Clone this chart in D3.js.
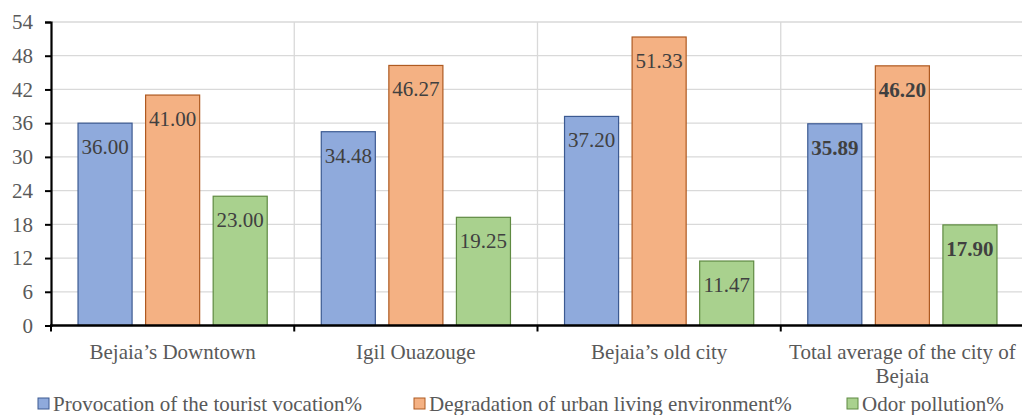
<!DOCTYPE html>
<html>
<head>
<meta charset="utf-8">
<script src="https://cdn.jsdelivr.net/npm/d3@7"></script>
<style>
  html, body { margin: 0; padding: 0; background: #fff; }
  svg { display: block; }
</style>
</head>
<body>
<svg id="chart" width="1022" height="415"></svg>
<script>
// Survey results by area (percent of respondents)
const categories = [
  ["Bejaia\u2019s Downtown"],
  ["Igil Ouazouge"],
  ["Bejaia\u2019s old city"],
  ["Total average of the city of", "Bejaia"]
];
const seriesNames = [
  "Provocation of the tourist vocation%",
  "Degradation of urban living environment%",
  "Odor pollution%"
];
const provocation = [36.00, 34.48, 37.20, 35.89];
const degradation = [41.00, 46.27, 51.33, 46.20];
const odor = [23.00, 19.25, 11.47, 17.90];
const yTicks = [0, 6, 12, 18, 24, 30, 36, 42, 48, 54];

const FONT = "'Liberation Serif', 'Times New Roman', Times, 'DejaVu Serif', serif";
const fills = ["#8faadc", "#f4b183", "#a9d18e"];
const strokes = ["#3c5a92", "#ae5a21", "#5f8a42"];

const svg = d3.select("#chart").style("font-family", FONT);
const margin = { left: 51, top: 22, right: -2, bottom: 89.5 };
const W = 1022, H = 415;
const plotW = W - margin.left - margin.right;
const plotH = H - margin.top - margin.bottom;

const seriesData = [provocation, degradation, odor];
const catIdx = d3.range(categories.length);

const x = d3.scaleBand().domain(catIdx).range([0, plotW]).paddingInner(0).paddingOuter(0);
const xInner = d3.scaleBand().domain(d3.range(3)).range([0, x.bandwidth()])
  .paddingInner(0.2).paddingOuter(0.4);
const y = d3.scaleLinear().domain([0, 54]).range([plotH, 0]);

const g = svg.append("g").attr("transform", `translate(${margin.left},${margin.top})`);

// Horizontal gridlines
g.append("g").selectAll("line").data(yTicks.filter(t => t > 0)).join("line")
  .attr("x1", 0).attr("x2", plotW)
  .attr("y1", d => y(d)).attr("y2", d => y(d))
  .attr("stroke", "#d9d9d9").attr("stroke-width", 1.3);

// Vertical gridlines between categories
g.append("g").selectAll("line").data(catIdx.slice(1)).join("line")
  .attr("x1", d => x(d)).attr("x2", d => x(d))
  .attr("y1", 0).attr("y2", plotH)
  .attr("stroke", "#d9d9d9").attr("stroke-width", 1.3);

// Bars
const groups = g.append("g").selectAll("g").data(catIdx).join("g")
  .attr("transform", d => `translate(${x(d)},0)`);

groups.selectAll("rect").data(ci => seriesData.map((s, si) => ({ si, ci, v: s[ci] }))).join("rect")
  .attr("x", d => xInner(d.si))
  .attr("width", xInner.bandwidth())
  .attr("y", d => y(d.v))
  .attr("height", d => plotH - y(d.v))
  .attr("fill", d => fills[d.si])
  .attr("stroke", d => strokes[d.si])
  .attr("stroke-width", 1.2);

// Value labels inside the bars, bold for the city average
groups.selectAll("text").data(ci => seriesData.map((s, si) => ({ si, ci, v: s[ci] }))).join("text")
  .attr("x", d => xInner(d.si) + xInner.bandwidth() / 2)
  .attr("y", d => y(d.v) + 31)
  .attr("text-anchor", "middle")
  .style("font-family", FONT)
  .attr("font-size", 21)
  .attr("font-weight", d => d.ci === 3 ? "bold" : "normal")
  .attr("fill", "#404040")
  .text(d => d.v.toFixed(2));

// Y axis
const yAxis = d3.axisLeft(y).tickValues(yTicks).tickSize(6).tickPadding(12).tickFormat(d3.format("d"));
const ya = g.append("g").call(yAxis).attr("font-family", null);
ya.select(".domain").attr("stroke", "#000").attr("stroke-width", 2.2);
ya.selectAll(".tick line").attr("stroke", "#000").attr("stroke-width", 2);
ya.selectAll(".tick text").attr("font-size", 21).attr("fill", "#595959")
  .style("font-family", FONT);

// X axis line and boundary ticks
g.append("line").attr("x1", -1).attr("x2", plotW).attr("y1", plotH).attr("y2", plotH)
  .attr("stroke", "#000").attr("stroke-width", 2.5);
g.append("g").selectAll("line").data(d3.range(categories.length + 1)).join("line")
  .attr("x1", d => d * x.step()).attr("x2", d => d * x.step())
  .attr("y1", plotH).attr("y2", plotH + 6)
  .attr("stroke", "#000").attr("stroke-width", 2);

// Category labels
const cl = g.append("g").selectAll("text").data(catIdx).join("text")
  .attr("x", d => x(d) + x.bandwidth() / 2)
  .attr("y", plotH + 33)
  .attr("text-anchor", "middle")
  .style("font-family", FONT)
  .attr("font-size", 21)
  .attr("fill", "#595959");
cl.selectAll("tspan").data(d => categories[d].map((t, i) => ({ t, i, d }))).join("tspan")
  .attr("x", d => x(d.d) + x.bandwidth() / 2)
  .attr("dy", d => d.i === 0 ? 0 : 24)
  .text(d => d.t);

// Legend
const legendX = [38, 414, 847];
const lg = svg.append("g").selectAll("g").data(seriesNames).join("g")
  .attr("transform", (d, i) => `translate(${legendX[i]},398)`);
lg.append("rect").attr("width", 11).attr("height", 11)
  .attr("fill", (d, i) => fills[i]).attr("stroke", (d, i) => strokes[i]).attr("stroke-width", 1);
lg.append("text").attr("x", 15).attr("y", 12.5)
  .style("font-family", FONT)
  .attr("font-size", 21).attr("fill", "#595959").text(d => d);
</script>
</body>
</html>
